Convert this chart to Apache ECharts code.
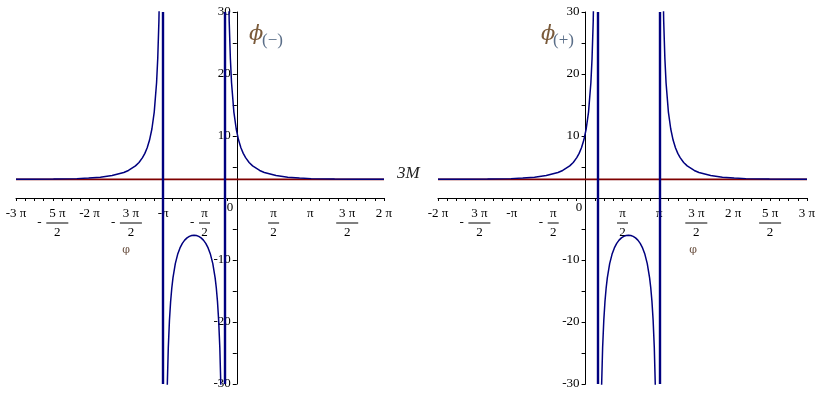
<!DOCTYPE html>
<html><head><meta charset="utf-8">
<script src="https://cdn.jsdelivr.net/npm/echarts@6/dist/echarts.min.js"></script>
<style>html,body{margin:0;padding:0;background:#fff}#c{width:824px;height:406px}</style>
</head><body><div id="c"></div>
<script>
// x values are in units of pi (phi / pi)
const threeM = 3;
const leftXRange = [-3, 2];
const rightXRange = [-2, 3];
const yRange = [-30, 30];

const leftTickValues = [-3, -2.5, -2, -1.5, -1, -0.5, 0, 0.5, 1, 1.5, 2];
const leftTickTexts  = ['-3 π', '-5 π/2', '-2 π', '-3 π/2', '-π', '-π/2', '', 'π/2', 'π', '3 π/2', '2 π'];
const rightTickValues = [-2, -1.5, -1, -0.5, 0, 0.5, 1, 1.5, 2, 2.5, 3];
const rightTickTexts  = ['-2 π', '-3 π/2', '-π', '-π/2', '', 'π/2', 'π', '3 π/2', '2 π', '5 π/2', '3 π'];

// phi(-) panel
const leftOuter = [[-3.0000,3.009],[-2.8090,3.017],[-2.4907,3.045],[-2.1723,3.125],[-2.0132,3.209],[-1.8540,3.356],[-1.6949,3.617],[-1.5357,4.116],[-1.4721,4.439],[-1.3766,5.178],[-1.3288,5.735],[-1.2811,6.505],[-1.2492,7.197],[-1.2174,8.108],[-1.1856,9.348],[-1.1537,11.13],[-1.1219,13.86],[-1.0901,18.59],[-1.0742,22.49],[-1.0583,28.5],[-1.0423,39.2],[-1.0264,62.6],[-1.0105,157.9]];
const leftInner = [[-0.9787,-77.66],[-0.9628,-44.5],[-0.9468,-31.28],[-0.9309,-24.14],[-0.9150,-19.72],[-0.8991,-16.69],[-0.8832,-14.52],[-0.8673,-12.88],[-0.8354,-10.58],[-0.8036,-9.084],[-0.7718,-8.049],[-0.7399,-7.316],[-0.7081,-6.794],[-0.6763,-6.427],[-0.6445,-6.184],[-0.6126,-6.045],[-0.5808,-6.0],[-0.5490,-6.045],[-0.5171,-6.184],[-0.4853,-6.427],[-0.4535,-6.794],[-0.4216,-7.316],[-0.3898,-8.049],[-0.3580,-9.084],[-0.3261,-10.58],[-0.2943,-12.88],[-0.2784,-14.52],[-0.2625,-16.69],[-0.2466,-19.72],[-0.2306,-24.14],[-0.2147,-31.28],[-0.1988,-44.5],[-0.1829,-77.66]];
const leftRight = [[-0.1511,157.9],[-0.1352,62.6],[-0.1192,39.2],[-0.1033,28.5],[-0.0874,22.49],[-0.0715,18.59],[-0.0397,13.86],[-0.0078,11.13],[0.0240,9.348],[0.0558,8.108],[0.0876,7.197],[0.1195,6.505],[0.1673,5.735],[0.2150,5.178],[0.3105,4.439],[0.3741,4.116],[0.5333,3.617],[0.6925,3.356],[0.8516,3.209],[1.0108,3.125],[1.3291,3.045],[1.6474,3.017],[1.9657,3.006],[2.0,3.006]];
const leftAsymptotes = [-1, -0.1616];

// phi(+) panel
const rightLeft = [[-2.0,3.006],[-1.9657,3.006],[-1.6474,3.017],[-1.3291,3.045],[-1.0108,3.125],[-0.8516,3.209],[-0.6925,3.356],[-0.5333,3.617],[-0.3741,4.116],[-0.3105,4.439],[-0.2150,5.178],[-0.1673,5.735],[-0.1195,6.505],[-0.0876,7.197],[-0.0558,8.108],[-0.0240,9.348],[0.0078,11.13],[0.0397,13.86],[0.0715,18.59],[0.0874,22.49],[0.1033,28.5],[0.1192,39.2],[0.1352,62.6],[0.1511,157.9]];
const rightInner = [[0.1829,-77.66],[0.1988,-44.5],[0.2147,-31.28],[0.2306,-24.14],[0.2466,-19.72],[0.2625,-16.69],[0.2784,-14.52],[0.2943,-12.88],[0.3261,-10.58],[0.3580,-9.084],[0.3898,-8.049],[0.4216,-7.316],[0.4535,-6.794],[0.4853,-6.427],[0.5171,-6.184],[0.5490,-6.045],[0.5808,-6.0],[0.6126,-6.045],[0.6445,-6.184],[0.6763,-6.427],[0.7081,-6.794],[0.7399,-7.316],[0.7718,-8.049],[0.8036,-9.084],[0.8354,-10.58],[0.8673,-12.88],[0.8832,-14.52],[0.8991,-16.69],[0.9150,-19.72],[0.9309,-24.14],[0.9468,-31.28],[0.9628,-44.5],[0.9787,-77.66]];
const rightOuter = [[1.0105,157.9],[1.0264,62.6],[1.0423,39.2],[1.0583,28.5],[1.0742,22.49],[1.0901,18.59],[1.1219,13.86],[1.1537,11.13],[1.1856,9.348],[1.2174,8.108],[1.2492,7.197],[1.2811,6.505],[1.3288,5.735],[1.3766,5.178],[1.4721,4.439],[1.5357,4.116],[1.6949,3.617],[1.8540,3.356],[2.0132,3.209],[2.1723,3.125],[2.4907,3.045],[2.8090,3.017],[3.0,3.009]];
const rightAsymptotes = [0.1616, 1];

const NAVY = '#00007f';
const MAROON = '#7f0000';
const SERIF = '"Liberation Serif", "DejaVu Serif", serif';

const grids = [
  {left: 16, top: 12, width: 368, height: 372},
  {left: 438, top: 12, width: 369, height: 372}
];

function fracLabel(txt) {
  if (!txt) return '';
  const m = txt.match(/^(-?)(.*)\/(.*)$/);
  if (!m) return '{t|' + txt + '}';
  const w = m[2].length > 1 ? 'W' : 'N';
  if (m[1] === '-') {
    return '{sp|\u00a0}{n' + w + '|' + m[2] + '}\n{mn|-}{bar' + w + '|\u00a0}\n{sp|\u00a0}{n' + w + '|' + m[3] + '}';
  }
  return '{n' + w + '|' + m[2] + '}\n{bar' + w + '|\u00a0}\n{n' + w + '|' + m[3] + '}';
}
const rich = {
  t:   {fontFamily: SERIF, fontSize: 13, lineHeight: 13, color: '#000'},
  sp:  {fontFamily: SERIF, fontSize: 13, lineHeight: 13, width: 9},
  mn:  {fontFamily: SERIF, fontSize: 13, lineHeight: 6, width: 9, align: 'left', color: '#000'},
  nW:  {fontFamily: SERIF, fontSize: 13, lineHeight: 13, width: 22, align: 'center', color: '#000'},
  nN:  {fontFamily: SERIF, fontSize: 13, lineHeight: 13, width: 11, align: 'center', color: '#000'},
  barW:{fontSize: 1, lineHeight: 6, width: 22, height: 1, backgroundColor: '#000'},
  barN:{fontSize: 1, lineHeight: 6, width: 11, height: 1, backgroundColor: '#000'}
};

function xAxisFor(gi, range, vals, texts) {
  const g = grids[gi];
  // place the axis at y = 0
  const zeroOffset = -g.height * (0 - yRange[0]) / (yRange[1] - yRange[0]);
  return {
    type: 'value', gridIndex: gi, min: range[0], max: range[1], interval: 0.5,
    position: 'bottom', offset: zeroOffset,
    axisLine: {onZero: false, lineStyle: {color: '#000', width: 1}},
    axisTick: {show: true, length: 3, lineStyle: {color: '#000'}},
    minorTick: {show: true, splitNumber: 4, length: 3, lineStyle: {color: '#000'}},
    splitLine: {show: false}, minorSplitLine: {show: false},
    axisLabel: {
      margin: 9, color: '#000', fontFamily: SERIF, fontSize: 13, verticalAlign: 'top',
      showMinLabel: true, showMaxLabel: true, hideOverlap: false,
      formatter: v => { const i = vals.findIndex(a => Math.abs(a - v) < 1e-9); return i < 0 ? '' : fracLabel(texts[i]); },
      rich
    }
  };
}
function yAxisFor(gi, range) {
  const g = grids[gi];
  // place the axis at x = 0
  const zeroOffset = -g.width * (0 - range[0]) / (range[1] - range[0]);
  return {
    type: 'value', gridIndex: gi, min: yRange[0], max: yRange[1], interval: 10,
    position: 'left', offset: zeroOffset,
    axisLine: {onZero: false, lineStyle: {color: '#000', width: 1}},
    axisTick: {show: true, length: 4, lineStyle: {color: '#000'}},
    minorTick: {show: true, splitNumber: 2, length: 4, lineStyle: {color: '#000'}},
    splitLine: {show: false}, minorSplitLine: {show: false},
    axisLabel: {margin: 6, color: '#000', fontFamily: SERIF, fontSize: 13,
      formatter: v => v === 0 ? '' : String(v)}
  };
}
function curve(idx, data) {
  return {type: 'line', xAxisIndex: idx, yAxisIndex: idx, data, showSymbol: false, symbol: 'none',
    clip: true, z: 3, lineStyle: {color: NAVY, width: 1.5}, itemStyle: {color: NAVY}};
}
function baseLine(idx, range, asym) {
  return {type: 'line', xAxisIndex: idx, yAxisIndex: idx, data: [[range[0], threeM], [range[1], threeM]],
    showSymbol: false, symbol: 'none', z: 2, lineStyle: {color: MAROON, width: 1.8},
    markLine: {symbol: 'none', silent: true, label: {show: false}, z: 4,
      lineStyle: {type: 'solid', color: NAVY, width: 2.4},
      data: asym.map(v => ({xAxis: v}))}};
}

const chart = echarts.init(document.getElementById('c'), null, {renderer: 'canvas'});
chart.setOption({
  animation: false,
  backgroundColor: '#fff',
  grid: grids.map(g => Object.assign({containLabel: false, outerBoundsMode: 'none'}, g)),
  xAxis: [xAxisFor(0, leftXRange, leftTickValues, leftTickTexts), xAxisFor(1, rightXRange, rightTickValues, rightTickTexts)],
  yAxis: [yAxisFor(0, leftXRange), yAxisFor(1, rightXRange)],
  series: [
    baseLine(0, leftXRange, leftAsymptotes),
    curve(0, leftOuter), curve(0, leftInner), curve(0, leftRight),
    baseLine(1, rightXRange, rightAsymptotes),
    curve(1, rightLeft), curve(1, rightInner), curve(1, rightOuter)
  ],
  graphic: [
    {type: 'text', x: 249, y: 24, style: {text: 'ϕ', font: 'italic 21px "DejaVu Serif", serif', fill: '#7a5a3a'}},
    {type: 'text', x: 262, y: 32, style: {text: '(−)', font: '17px "Liberation Serif", serif', fill: '#5a6e88'}},
    {type: 'text', x: 541, y: 24, style: {text: 'ϕ', font: 'italic 21px "DejaVu Serif", serif', fill: '#7a5a3a'}},
    {type: 'text', x: 553, y: 32, style: {text: '(+)', font: '17px "Liberation Serif", serif', fill: '#5a6e88'}},
    {type: 'text', x: 397, y: 165, style: {text: '3M', font: 'italic 17px "Liberation Serif", serif', fill: '#222'}},
    {type: 'text', x: 126, y: 250, style: {text: 'φ', font: '11px "DejaVu Serif", serif', fill: '#6a5040', align: 'center', verticalAlign: 'middle'}},
    {type: 'text', x: 693, y: 250, style: {text: 'φ', font: '11px "DejaVu Serif", serif', fill: '#6a5040', align: 'center', verticalAlign: 'middle'}},
    {type: 'text', x: 230, y: 208, style: {text: '0', font: '13px "Liberation Serif", serif', fill: '#000', align: 'center', verticalAlign: 'middle'}},
    {type: 'text', x: 579, y: 208, style: {text: '0', font: '13px "Liberation Serif", serif', fill: '#000', align: 'center', verticalAlign: 'middle'}}
  ]
});
</script>
</body></html>
